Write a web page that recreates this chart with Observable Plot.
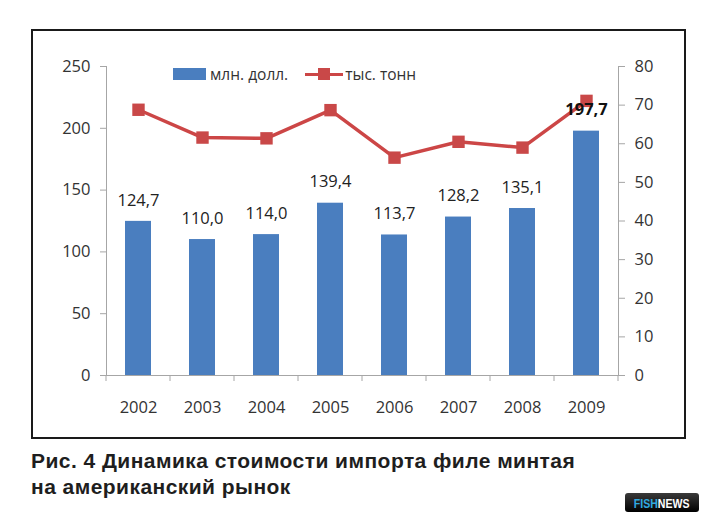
<!DOCTYPE html>
<html>
<head>
<meta charset="utf-8">
<script src="https://cdn.jsdelivr.net/npm/d3@7"></script>
<script src="https://cdn.jsdelivr.net/npm/@observablehq/plot@0.6"></script>
<style>
  html, body { margin: 0; padding: 0; background: #fff; }
  #wrap { position: relative; width: 709px; height: 522px; overflow: hidden; background: #fff; }
  #chart { position: absolute; left: 0; top: 0; }
  #frame { position: absolute; left: 31px; top: 29px; width: 651px; height: 406px; border: 2px solid #1a1a1a; pointer-events: none; }
  #legend { position: absolute; left: 173px; top: 64px; height: 20px; font-family: "Open Sans", sans-serif; font-size: 15.5px; color: #333; display: flex; align-items: center; }
  .sw-bar { width: 33px; height: 12px; background: #4a7ebf; display: inline-block; margin-right: 4px; }
  .sw-line { position: relative; width: 38px; height: 12px; display: inline-block; margin-left: 17px; margin-right: 2px; }
  .sw-line::before { content: ""; position: absolute; left: 0; right: 0; top: 4.5px; height: 3.5px; background: #cc4646; }
  .sw-line::after { content: ""; position: absolute; left: 13px; top: 0; width: 12px; height: 12px; background: #c94848; }
  #caption { position: absolute; left: 31px; top: 448px; font-family: "Liberation Sans", Arial, sans-serif; font-weight: bold; font-size: 21px; letter-spacing: 0.45px; line-height: 26px; color: #1e1e1e; }
  #logo { position: absolute; left: 625px; top: 493px; width: 74px; height: 19px; border-radius: 3px; background: linear-gradient(#3a3a3a, #000); text-align: center; line-height: 19px; }
  #logo span.t { display: inline-block; transform: scaleX(0.88); font-family: "Liberation Sans", Arial, sans-serif; font-weight: bold; font-size: 12px; }
</style>
</head>
<body>
<div id="wrap">
  <div id="chart"></div>
  <div id="frame"></div>
  <div id="legend"><span class="sw-bar"></span><span>млн. долл.</span><span class="sw-line"></span><span>тыс. тонн</span></div>
  <div id="caption">Рис. 4 Динамика стоимости импорта филе минтая<br>на американский рынок</div>
  <div id="logo"><span class="t"><span style="color:#2fa9e1">FISH</span><span style="color:#fff">NEWS</span></span></div>
</div>
<script>
const years = ["2002", "2003", "2004", "2005", "2006", "2007", "2008", "2009"];
const valueMlnUsd = [124.7, 110.0, 114.0, 139.4, 113.7, 128.2, 135.1, 197.7];
const volumeThousandTons = [68.8, 61.6, 61.4, 68.7, 56.4, 60.5, 59.0, 71.1];
const leftTicks = [0, 50, 100, 150, 200, 250];
const rightTicks = [0, 10, 20, 30, 40, 50, 60, 70, 80];
const boldLabelYears = ["2009"];

const leftMax = 250, rightMax = 80;
const toLeft = v => v * leftMax / rightMax;
const fmt = v => v.toFixed(1).replace(".", ",");

const data = years.map((year, i) => ({ year, mln: valueMlnUsd[i], tons: volumeThousandTons[i] }));

const font = "'Open Sans', sans-serif";
const fs = 16.5;

const plot = Plot.plot({
  width: 709,
  height: 445,
  marginLeft: 106,
  marginRight: 91,
  marginTop: 66,
  marginBottom: 70,
  style: { fontFamily: font, fontSize: fs + "px", color: "#333", background: "transparent" },
  x: { type: "band", domain: years, paddingInner: 0.6, paddingOuter: 0.3 },
  y: { domain: [0, leftMax] },
  marks: [
    Plot.frame({ anchor: "left", stroke: "#a6a6a6" }),
    Plot.frame({ anchor: "right", stroke: "#a6a6a6" }),
    Plot.barY(data, { x: "year", y: "mln", fill: "#4a7ebf" }),
    Plot.ruleY([0], { stroke: "#a6a6a6" }),
    Plot.axisY(leftTicks, { anchor: "left", tickSize: 6, tickPadding: 10, stroke: "#a6a6a6", fill: "#333", fontSize: fs, label: null }),
    Plot.axisY(rightTicks.map(toLeft), { anchor: "right", tickSize: 6, tickPadding: 10, stroke: "#a6a6a6", fill: "#333", fontSize: fs, label: null, tickFormat: d => Math.round(d * rightMax / leftMax) }),
    Plot.axisX({ tickSize: 0, tickPadding: 26, fill: "#333", fontSize: fs, label: null }),
    Plot.text(data.filter(d => !boldLabelYears.includes(d.year)), { x: "year", y: "mln", text: d => fmt(d.mln), dy: -21, fontSize: fs, fill: "#222" }),
    Plot.lineY(data, { x: "year", y: d => toLeft(d.tons), stroke: "#cc4646", strokeWidth: 3.5 }),
    Plot.dot(data, { x: "year", y: d => toLeft(d.tons), symbol: "square", r: 7, fill: "#c94848", stroke: "none" }),
    Plot.text(data.filter(d => boldLabelYears.includes(d.year)), { x: "year", y: "mln", text: d => fmt(d.mln), dy: -21, fontSize: fs, fontWeight: "bold", fill: "#111" })
  ]
});

document.getElementById("chart").append(plot);

// category boundary ticks on the x axis, from the library's scales
const sx = plot.scale("x");
const sy = plot.scale("y");
const y0 = sy.apply(0);
const bounds = years.map(y => sx.apply(y) + sx.bandwidth / 2 - sx.step / 2);
bounds.push(sx.apply(years[years.length - 1]) + sx.bandwidth / 2 + sx.step / 2);
d3.select(plot).append("g")
  .attr("stroke", "#a6a6a6")
  .selectAll("line")
  .data(bounds)
  .join("line")
  .attr("x1", d => d).attr("x2", d => d)
  .attr("y1", y0).attr("y2", y0 + 6);
</script>
</body>
</html>
